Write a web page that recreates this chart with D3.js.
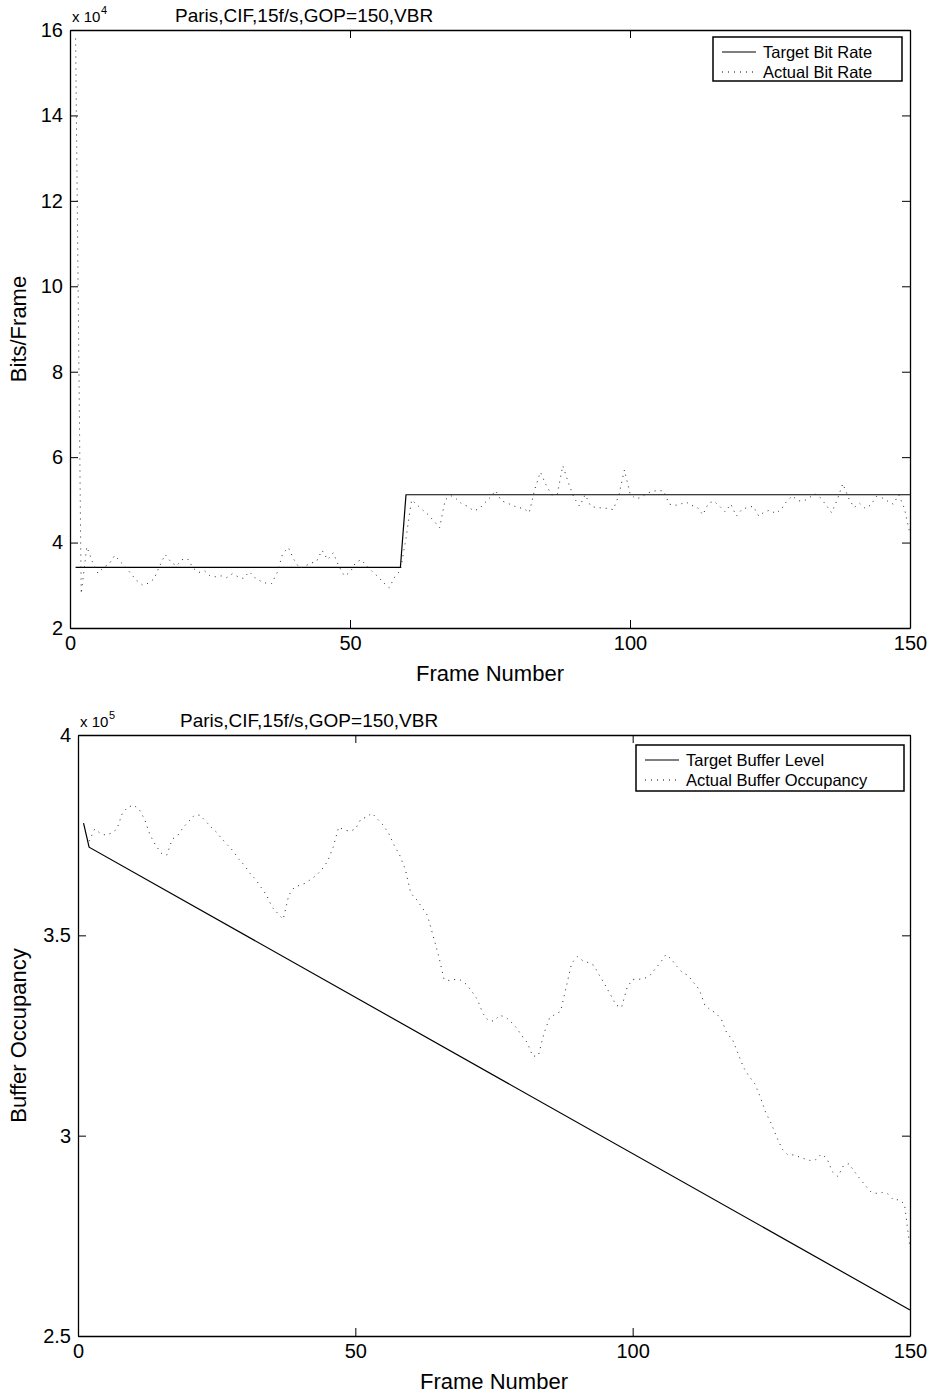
<!DOCTYPE html>
<html><head><meta charset="utf-8">
<script src="https://cdn.jsdelivr.net/npm/d3@7"></script>
<style>
body{margin:0;background:#fff;}
svg{display:block;font-family:"Liberation Sans",Arial,Helvetica,sans-serif;}
</style></head>
<body><svg id="c" width="937" height="1393"></svg>
<script>
// ---------------- data ----------------
const titleText = "Paris,CIF,15f/s,GOP=150,VBR";
const xTicks = [0, 50, 100, 150];
const rateTicks = [20000, 40000, 60000, 80000, 100000, 120000, 140000, 160000];
const rateTickLabels = ["2", "4", "6", "8", "10", "12", "14", "16"];
const bufTicks = [250000, 300000, 350000, 400000];
const bufTickLabels = ["2.5", "3", "3.5", "4"];

const targetRateFrames = [1, 59, 60, 150];
const targetRateValues = [34200, 34200, 51200, 51200];

const actualRateValues = [ // frames 1..150
158000,28000,39000,35500,32800,34200,35000,37000,35500,34200,
32500,31000,30000,30500,31500,34500,37200,35500,34500,36000,
36200,34000,33000,33400,32200,32000,32200,31800,32700,32000,
31600,33200,31800,31000,30500,30400,33000,37500,38800,36000,
34000,34500,35200,35500,38200,36000,37600,34500,32200,33000,
35300,36000,34500,33200,32000,30600,29400,32000,33500,41000,
50000,48800,47600,46500,45000,43500,50000,51000,50200,49000,
48500,47500,47800,49200,50500,52200,49800,49300,48700,48200,
48000,47000,52500,56500,53500,51200,51200,58000,54000,50500,
48500,51200,48500,48200,48100,48000,47700,51000,57000,51500,
50200,50600,51500,52000,52200,52100,49000,48700,49000,49500,
48700,48300,46500,49200,49700,48500,47200,49000,46200,47800,
48200,48500,46200,47200,47600,46800,47800,49700,50900,49800,
49700,50500,51400,50500,48800,47000,50000,53800,50500,48200,
49200,48000,48800,50800,50500,49700,49000,51200,48000,42000];
const actualRateFirstFrame = 1;

const targetBufFrames = [1, 2, 150];
const targetBufValues = [378000, 372000, 256500];

const actualBufValues = [ // frames 2..150
373500,376500,375500,375000,375500,376500,380500,382000,382500,
381500,379000,375000,372500,370500,370000,374000,375000,377000,378500,
380000,380000,378500,377000,375700,374000,372500,371000,369000,367500,
365500,364000,362000,360000,357000,355500,354000,360000,362000,362500,
363000,364000,365000,366500,368500,372000,377000,376300,376000,376500,
379000,379500,380500,379000,377500,375500,372500,370000,366500,360500,
359000,357000,355000,350000,345000,339000,338700,339000,338800,337800,
336000,334000,330500,328700,328600,330000,329700,328500,327000,325000,
323200,319800,320000,325500,329300,330300,331000,337000,343000,344700,
343700,343200,342500,340000,337700,335200,332600,332000,337000,339000,
339000,339200,339800,341500,343200,345200,344000,342200,340700,340000,
338200,336500,332600,331400,330600,329000,325500,324000,320500,317000,
314800,313000,309700,305700,303000,299500,296600,295200,295200,294700,
294200,293800,294000,295400,294400,291000,289800,292500,293000,291000,
289200,287500,285900,285600,285800,285500,284000,284000,283000,272000];
const actualBufFirstFrame = 2;

const rateLegend = ["Target Bit Rate", "Actual Bit Rate"];
const bufLegend = ["Target Buffer Level", "Actual Buffer Occupancy"];

// ---------------- drawing ----------------
const svg = d3.select("#c");

function panel(o) {
  const x = d3.scaleLinear().domain([0, 150]).range([o.left, o.right]);
  const y = d3.scaleLinear().domain(o.yDomain).range([o.bottom, o.top]);
  const g = svg.append("g");

  const fmtY = d => o.yLabels[o.yTicks.indexOf(d)];
  const ax = (sel) => { sel.selectAll("path.domain").attr("stroke", "#000").attr("stroke-width", 1.3);
    sel.selectAll(".tick line").attr("stroke", "#000");
    sel.selectAll("text").attr("font-size", 20).attr("fill", "#000").attr("font-family", "Liberation Sans, Arial, sans-serif"); };

  g.append("g").attr("transform", `translate(0,${o.bottom})`)
    .call(d3.axisBottom(x).tickValues(xTicks).tickSize(-8).tickSizeOuter(0).tickPadding(8)).call(ax);
  g.append("g").attr("transform", `translate(0,${o.top})`)
    .call(d3.axisTop(x).tickValues(xTicks).tickSize(-8).tickSizeOuter(0).tickFormat("")).call(ax);
  g.append("g").attr("transform", `translate(${o.left},0)`)
    .call(d3.axisLeft(y).tickValues(o.yTicks).tickSize(-8).tickSizeOuter(0).tickPadding(7).tickFormat(fmtY)).call(ax);
  g.append("g").attr("transform", `translate(${o.right},0)`)
    .call(d3.axisRight(y).tickValues(o.yTicks).tickSize(-8).tickSizeOuter(0).tickFormat("")).call(ax);

  // lines
  const line = d3.line().x(d => x(d[0])).y(d => y(d[1]));
  const tgt = o.tFrames.map((f, i) => [f, o.tValues[i]]);
  const act = o.aValues.map((v, i) => [o.aFirst + i, v]);
  g.append("path").datum(tgt).attr("d", line).attr("fill", "none").attr("stroke", "#000").attr("stroke-width", 1.2);
  g.append("path").datum(act).attr("d", line).attr("fill", "none").attr("stroke", "#222")
    .attr("stroke-width", 1).attr("stroke-dasharray", "1 5");

  // title & exponent
  g.append("text").attr("x", o.left + 2).attr("y", o.top - 8).attr("font-size", 15).text("x 10");
  g.append("text").attr("x", o.left + 31).attr("y", o.top - 16).attr("font-size", 11).text(o.exp);
  g.append("text").attr("x", o.titleX).attr("y", o.top - 8).attr("font-size", 19).text(titleText);

  // axis labels
  g.append("text").attr("x", (o.left + o.right) / 2).attr("y", o.bottom + 53).attr("text-anchor", "middle")
    .attr("font-size", 22).text("Frame Number");
  g.append("text").attr("transform", `translate(${o.yLabX},${(o.top + o.bottom) / 2}) rotate(-90)`)
    .attr("text-anchor", "middle").attr("font-size", 22).text(o.yLabel);

  // legend
  const L = o.legend;
  g.append("rect").attr("x", L.x).attr("y", L.y).attr("width", L.w).attr("height", L.h)
    .attr("fill", "#fff").attr("stroke", "#000").attr("stroke-width", 1.5);
  o.legendText.forEach((t, i) => {
    const yy = L.y + 15 + i * 20;
    g.append("line").attr("x1", L.x + 9).attr("x2", L.x + 43).attr("y1", yy).attr("y2", yy)
      .attr("stroke", "#000").attr("stroke-width", i ? 1 : 1.2).attr("stroke-dasharray", i ? "1 5" : null);
    g.append("text").attr("x", L.x + 50).attr("y", yy + 6).attr("font-size", 16.5).text(t);
  });
}

panel({left: 70, right: 910, top: 30, bottom: 628, yDomain: [20000, 160000],
  yTicks: rateTicks, yLabels: rateTickLabels, exp: "4", titleX: 175,
  tFrames: targetRateFrames, tValues: targetRateValues,
  aValues: actualRateValues, aFirst: actualRateFirstFrame,
  yLabel: "Bits/Frame", yLabX: 26,
  legend: {x: 713, y: 37, w: 189, h: 44}, legendText: rateLegend});

panel({left: 78, right: 910, top: 735, bottom: 1336, yDomain: [250000, 400000],
  yTicks: bufTicks, yLabels: bufTickLabels, exp: "5", titleX: 180,
  tFrames: targetBufFrames, tValues: targetBufValues,
  aValues: actualBufValues, aFirst: actualBufFirstFrame,
  yLabel: "Buffer Occupancy", yLabX: 26,
  legend: {x: 636, y: 745, w: 268, h: 46}, legendText: bufLegend});
</script></body></html>
